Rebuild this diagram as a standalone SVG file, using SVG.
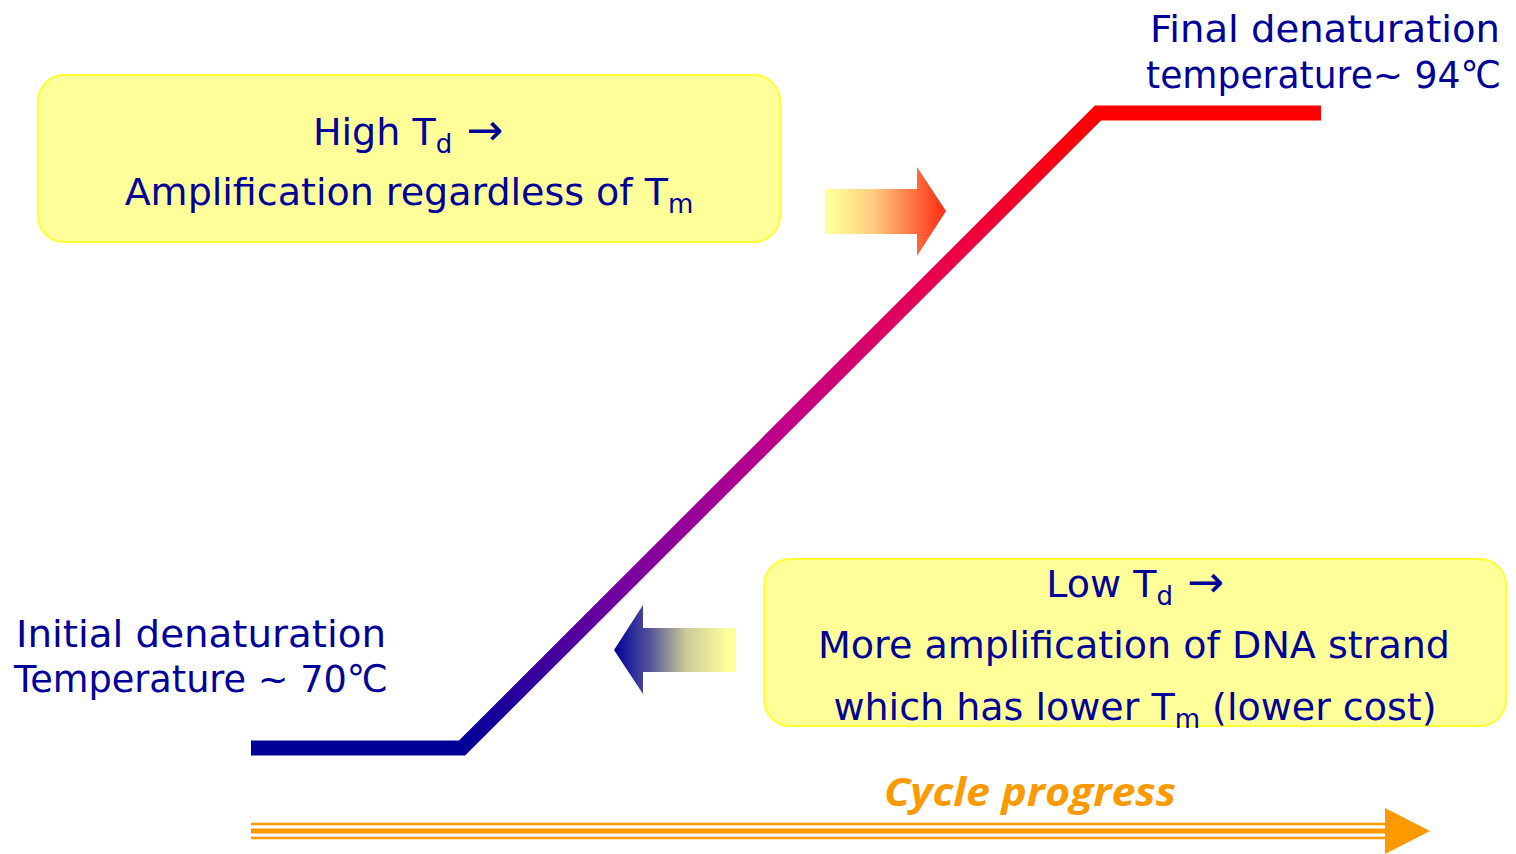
<svg xmlns="http://www.w3.org/2000/svg" width="1516" height="854" viewBox="0 0 1516 854">
<style>
.t{font-family:"DejaVu Sans",sans-serif;font-size:38px;fill:#000099}
.s{font-size:26px}
.a{font-size:44px}
.box{fill:#FFFF99;stroke:#FFFF33;stroke-width:2}
</style>
<defs>
<linearGradient id="lineG" gradientUnits="userSpaceOnUse" x1="462" y1="748" x2="1098" y2="113">
<stop offset="0" stop-color="#000099"/>
<stop offset="0.26" stop-color="#7A00A0"/>
<stop offset="0.5" stop-color="#C0008A"/>
<stop offset="0.74" stop-color="#E8004F"/>
<stop offset="1" stop-color="#FF0000"/>
</linearGradient>
<linearGradient id="rG" x1="0" y1="0" x2="1" y2="0">
<stop offset="0.05" stop-color="#FFFF99"/>
<stop offset="0.4" stop-color="#FFCC80"/>
<stop offset="1" stop-color="#FF2A10"/>
</linearGradient>
<linearGradient id="lG" x1="0" y1="0" x2="1" y2="0">
<stop offset="0" stop-color="#000099"/>
<stop offset="0.3" stop-color="#555599"/>
<stop offset="0.6" stop-color="#CCCC99"/>
<stop offset="0.95" stop-color="#FFFF99"/>
</linearGradient>
</defs>
<g id="connectors">
<polyline points="251,748 462,748 1098,113 1321,113" fill="none" stroke="url(#lineG)" stroke-width="15" stroke-linejoin="miter"/>
<g id="cycle-arrow">
<line x1="251" y1="824" x2="1392" y2="824" stroke="#FF9900" stroke-width="2.5"/>
<line x1="251" y1="831" x2="1392" y2="831" stroke="#FF9900" stroke-width="5"/>
<line x1="251" y1="838" x2="1392" y2="838" stroke="#FF9900" stroke-width="2.5"/>
<polygon points="1385,808 1430,831 1385,854" fill="#FF9900"/>
</g>
</g>
<g id="arrow-right">
<polygon points="825,189 917,189 917,167 946,211 917,256 917,234 825,234" fill="url(#rG)"/>
</g>
<g id="arrow-left">
<polygon points="735,628 643,628 643,605 614,650 643,694 643,672 735,672" fill="url(#lG)"/>
</g>
<g id="box-high">
<rect class="box" x="38" y="75" width="742" height="167" rx="26"/>
<text class="t" x="408" y="145" text-anchor="middle">High T<tspan class="s" dy="8">d</tspan><tspan class="a" dy="-8"> →</tspan></text>
<text class="t" x="409" y="205" text-anchor="middle">Amplification regardless of T<tspan class="s" dy="8">m</tspan></text>
</g>
<g id="box-low">
<rect class="box" x="764" y="559" width="742" height="167" rx="26"/>
<text class="t" x="1135" y="597" text-anchor="middle">Low T<tspan class="s" dy="8">d</tspan><tspan class="a" dy="-8"> →</tspan></text>
<text class="t" x="818" y="658" textLength="632" lengthAdjust="spacingAndGlyphs">More amplification of DNA strand</text>
<text class="t" x="1135" y="720" text-anchor="middle">which has lower T<tspan class="s" dy="8">m</tspan><tspan dy="-8"> (lower cost)</tspan></text>
</g>
<g id="label-initial">
<text class="t" x="16" y="647" textLength="370" lengthAdjust="spacingAndGlyphs">Initial denaturation</text>
<text class="t" x="14" y="692" textLength="374" lengthAdjust="spacingAndGlyphs">Temperature ~ 70℃</text>
</g>
<g id="label-final">
<text class="t" x="1150" y="42" textLength="350" lengthAdjust="spacingAndGlyphs">Final denaturation</text>
<text class="t" x="1146" y="88" textLength="355" lengthAdjust="spacingAndGlyphs">temperature~ 94℃</text>
</g>
<g id="label-cycle">
<text x="884" y="806" textLength="292" lengthAdjust="spacingAndGlyphs" style="font-family:'Open Sans','DejaVu Sans',sans-serif;font-size:40px;font-style:italic;font-weight:bold;fill:#FF9900">Cycle progress</text>
</g>
</svg>
